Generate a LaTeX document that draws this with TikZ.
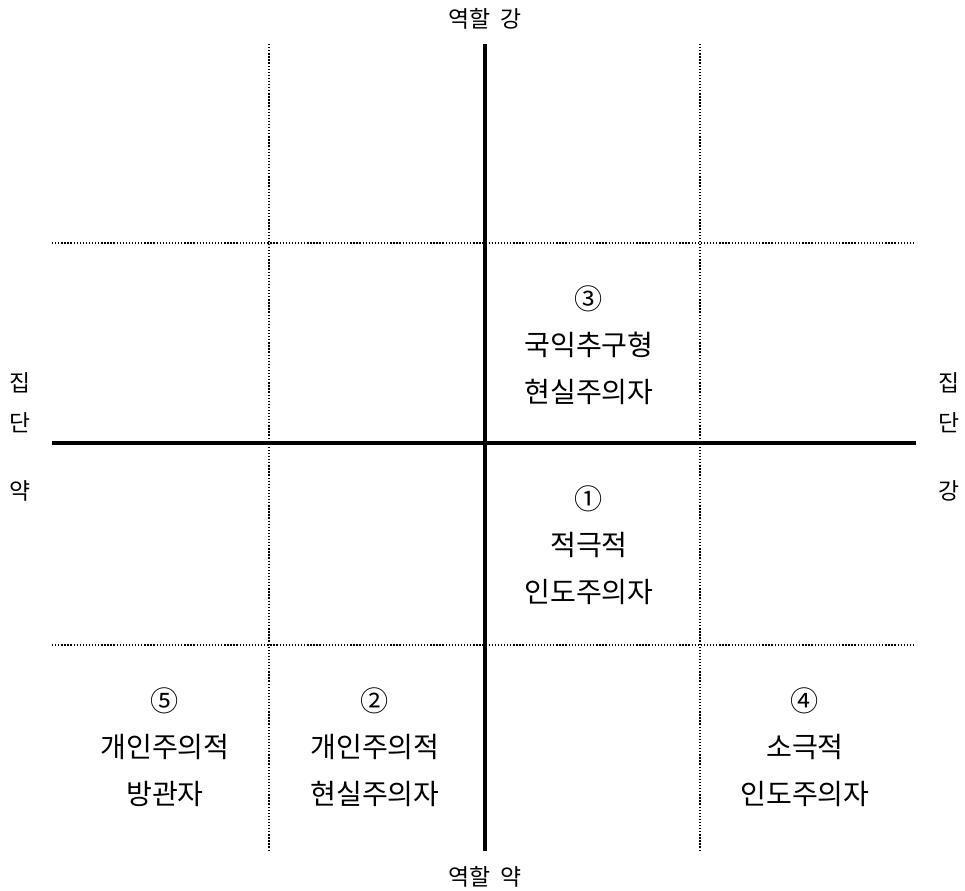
\documentclass[tikz,border=0pt]{standalone}
\usepackage{fontspec}
\setmainfont{Noto Sans CJK KR}
\usetikzlibrary{positioning}

\begin{document}
\begin{tikzpicture}[
    x=0.02cm, y=-0.02cm,
    axis/.style={line width=2.6pt},
    grid/.style={densely dotted, line width=0.75pt},
    cell/.style={align=center, font=\fontsize{16}{26.6}\selectfont},
    axislabel/.style={font=\fontsize{13}{15}\selectfont},
    sidelabel/.style={align=center, font=\fontsize{13}{22.7}\selectfont}
]
    \useasboundingbox (0,0) rectangle (965,891);

    % Axis end points
    \coordinate (top) at (485,44);
    \coordinate (bottom) at (485,851);
    \coordinate (left) at (52,443);
    \coordinate (right) at (916,443);

    % Dotted grid
    \coordinate (g1t) at (269,44);
    \coordinate (g1b) at (269,851);
    \coordinate (g2t) at (700,44);
    \coordinate (g2b) at (700,851);
    \coordinate (h1l) at (52,243);
    \coordinate (h1r) at (915,243);
    \coordinate (h2l) at (52,645);
    \coordinate (h2r) at (915,645);
    \draw[grid] (g1t) -- (g1b);
    \draw[grid] (g2t) -- (g2b);
    \draw[grid] (h1l) -- (h1r);
    \draw[grid] (h2l) -- (h2r);

    % Main axes
    \draw[axis] (top) -- (bottom);
    \draw[axis] (left) -- (right);

    % Axis labels
    \node[axislabel, above=5pt of top] (rolestrong) {역할~~강};
    \node[axislabel, below=5pt of bottom] (roleweak) {역할~~약};
    \node[sidelabel] (groupweak) at (20,437) {집\\단\\[0.56cm]약};
    \node[sidelabel] (groupstrong) at (949,437) {집\\단\\[0.56cm]강};

    % Types
    \node[cell] (type3) at (589,345) {③\\국익추구형\\현실주의자};
    \node[cell] (type1) at (589,545) {①\\적극적\\인도주의자};
    \node[cell] (type5) at (165,747) {⑤\\개인주의적\\방관자};
    \node[cell] (type2) at (375,747) {②\\개인주의적\\현실주의자};
    \node[cell] (type4) at (805,747) {④\\소극적\\인도주의자};
\end{tikzpicture}
\end{document}
